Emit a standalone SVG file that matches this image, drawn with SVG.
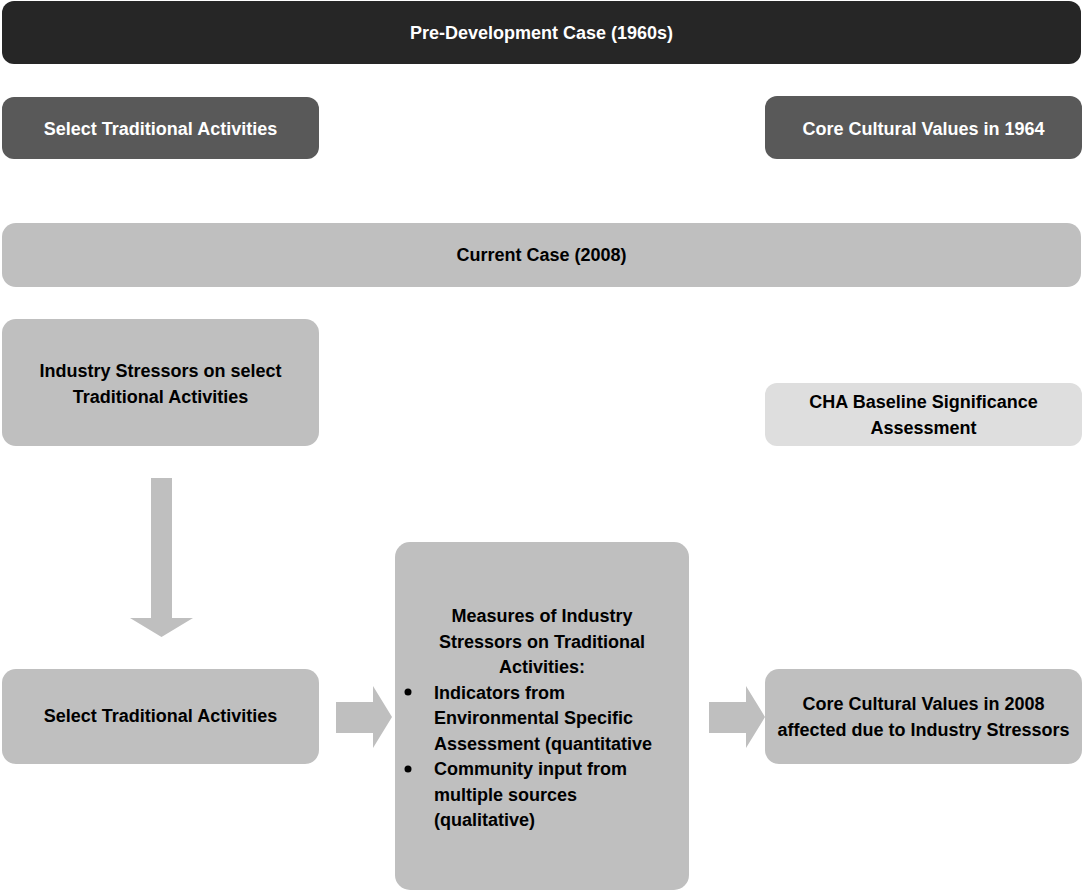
<svg xmlns="http://www.w3.org/2000/svg" width="1083" height="892" viewBox="0 0 1083 892">
<style>
text{font-family:"Liberation Sans",Arial,sans-serif;font-weight:bold;font-size:18px;text-anchor:middle;fill:#000}
.w{fill:#fff}
.l{text-anchor:start}
.top{fill:#262626}
.dark{fill:#595959}
.mid{fill:#bfbfbf}
.light{fill:#dedede}
.arr{fill:#bfbfbf}
</style>
<rect width="1083" height="892" fill="#fff"/>
<g id="pre-development">
<rect class="top" x="2" y="1" width="1079" height="63" rx="12"/>
<text class="w" x="541.5" y="39">Pre-Development Case (1960s)</text>
</g>
<g id="select-traditional-1964">
<rect class="dark" x="2" y="97" width="317" height="62" rx="12"/>
<text class="w" x="160.5" y="135">Select Traditional Activities</text>
</g>
<g id="core-values-1964">
<rect class="dark" x="765" y="96" width="317" height="63" rx="12"/>
<text class="w" x="923.5" y="135">Core Cultural Values in 1964</text>
</g>
<g id="current-case">
<rect class="mid" x="2" y="223" width="1079" height="64" rx="14"/>
<text x="541.5" y="261">Current Case (2008)</text>
</g>
<g id="industry-stressors">
<rect class="mid" x="2" y="319" width="317" height="127" rx="14"/>
<text x="160.5" y="377">Industry Stressors on select</text>
<text x="160.5" y="403">Traditional Activities</text>
</g>
<g id="cha-baseline">
<rect class="light" x="765" y="383" width="317" height="63" rx="12"/>
<text x="923.5" y="408">CHA Baseline Significance</text>
<text x="923.5" y="434">Assessment</text>
</g>
<g id="select-traditional-2008">
<rect class="mid" x="2" y="669" width="317" height="95" rx="14"/>
<text x="160.5" y="722">Select Traditional Activities</text>
</g>
<g id="measures">
<rect class="mid" x="395" y="542" width="294" height="348" rx="15"/>
<text x="542" y="622">Measures of Industry</text>
<text x="542" y="647.5">Stressors on Traditional</text>
<text x="542" y="673">Activities:</text>
<circle cx="408" cy="692" r="3.5" fill="#000"/>
<text class="l" x="434" y="698.5">Indicators from</text>
<text class="l" x="434" y="724">Environmental Specific</text>
<text class="l" x="434" y="749.5">Assessment (quantitative</text>
<circle cx="408" cy="769" r="3.5" fill="#000"/>
<text class="l" x="434" y="775">Community input from</text>
<text class="l" x="434" y="800.5">multiple sources</text>
<text class="l" x="434" y="826">(qualitative)</text>
</g>
<g id="core-values-2008">
<rect class="mid" x="765" y="669" width="317" height="95" rx="14"/>
<text x="923.5" y="710">Core Cultural Values in 2008</text>
<text x="923.5" y="736">affected due to Industry Stressors</text>
</g>
<g id="connectors">
<polygon class="arr" points="151,478 172,478 172,618 193,618 161.5,637 130,618 151,618"/>
<polygon class="arr" points="336,702 373,702 373,686 392,717 373,748 373,733 336,733"/>
<polygon class="arr" points="709,702 746,702 746,686 765,717 746,748 746,733 709,733"/>
</g>
</svg>
